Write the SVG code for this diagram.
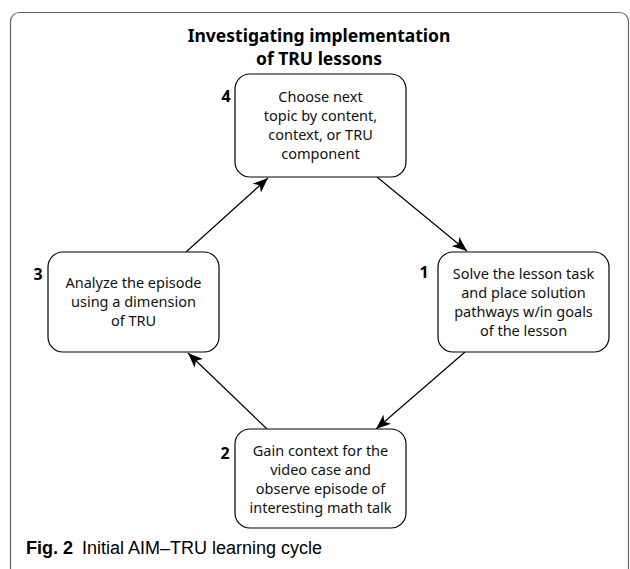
<svg xmlns="http://www.w3.org/2000/svg" width="630" height="569" viewBox="0 0 630 569">
<style>
.box{fill:#fff;stroke:#000;stroke-width:1.2}
.t{font-family:"Noto Sans","Open Sans",sans-serif;font-size:14.5px;fill:#111;text-anchor:middle}
.n{font-family:"Noto Sans","Open Sans",sans-serif;font-size:16px;font-weight:bold;fill:#000;text-anchor:middle}
.title{font-family:"Noto Sans","Open Sans",sans-serif;font-size:17.5px;font-weight:bold;fill:#000;text-anchor:middle}
.conn{stroke:#000;stroke-width:1.2;fill:none;marker-end:url(#ah)}
</style>
<defs>
<marker id="ah" markerUnits="userSpaceOnUse" markerWidth="16" markerHeight="12" refX="15" refY="6" orient="auto">
<path d="M0,0 L15,6 L0,12 L4,6 Z" fill="#000"/>
</marker>
</defs>
<rect x="10.5" y="12.5" width="618" height="570" rx="9" fill="none" stroke="#666" stroke-width="1.2"/>
<g id="title">
<text class="title" x="319" y="42">Investigating implementation</text>
<text class="title" x="319" y="65">of TRU lessons</text>
</g>
<g id="connectors">
<line class="conn" x1="377" y1="177" x2="467" y2="251"/>
<line class="conn" x1="465" y1="352" x2="376" y2="429"/>
<line class="conn" x1="267" y1="429" x2="188" y2="353"/>
<line class="conn" x1="186" y1="252" x2="268" y2="178"/>
</g>
<g id="node4">
<rect class="box" x="235" y="74" width="171" height="103" rx="15"/>
<text class="n" x="226" y="102">4</text>
<text class="t" x="320.5" y="102">Choose next</text>
<text class="t" x="320.5" y="121">topic by content,</text>
<text class="t" x="320.5" y="140">context, or TRU</text>
<text class="t" x="320.5" y="159">component</text>
</g>
<g id="node3">
<rect class="box" x="48" y="252" width="171" height="100" rx="15"/>
<text class="n" x="38" y="280">3</text>
<text class="t" x="133.5" y="288">Analyze the episode</text>
<text class="t" x="133.5" y="307">using a dimension</text>
<text class="t" x="133.5" y="326">of TRU</text>
</g>
<g id="node1">
<rect class="box" x="438" y="252" width="171" height="100" rx="15"/>
<text class="n" x="424" y="278">1</text>
<text class="t" x="523.5" y="279">Solve the lesson task</text>
<text class="t" x="523.5" y="298">and place solution</text>
<text class="t" x="523.5" y="317">pathways w/in goals</text>
<text class="t" x="523.5" y="336">of the lesson</text>
</g>
<g id="node2">
<rect class="box" x="235" y="429" width="171" height="99" rx="15"/>
<text class="n" x="225" y="459">2</text>
<text class="t" x="320.5" y="456">Gain context for the</text>
<text class="t" x="320.5" y="475">video case and</text>
<text class="t" x="320.5" y="494">observe episode of</text>
<text class="t" x="320.5" y="513">interesting math talk</text>
</g>
<g id="caption">
<text x="26" y="554" font-family="Liberation Sans, Arial, sans-serif" font-size="18" fill="#000"><tspan font-weight="bold">Fig. 2</tspan><tspan dx="9">Initial AIM–TRU learning cycle</tspan></text>
</g>
</svg>
